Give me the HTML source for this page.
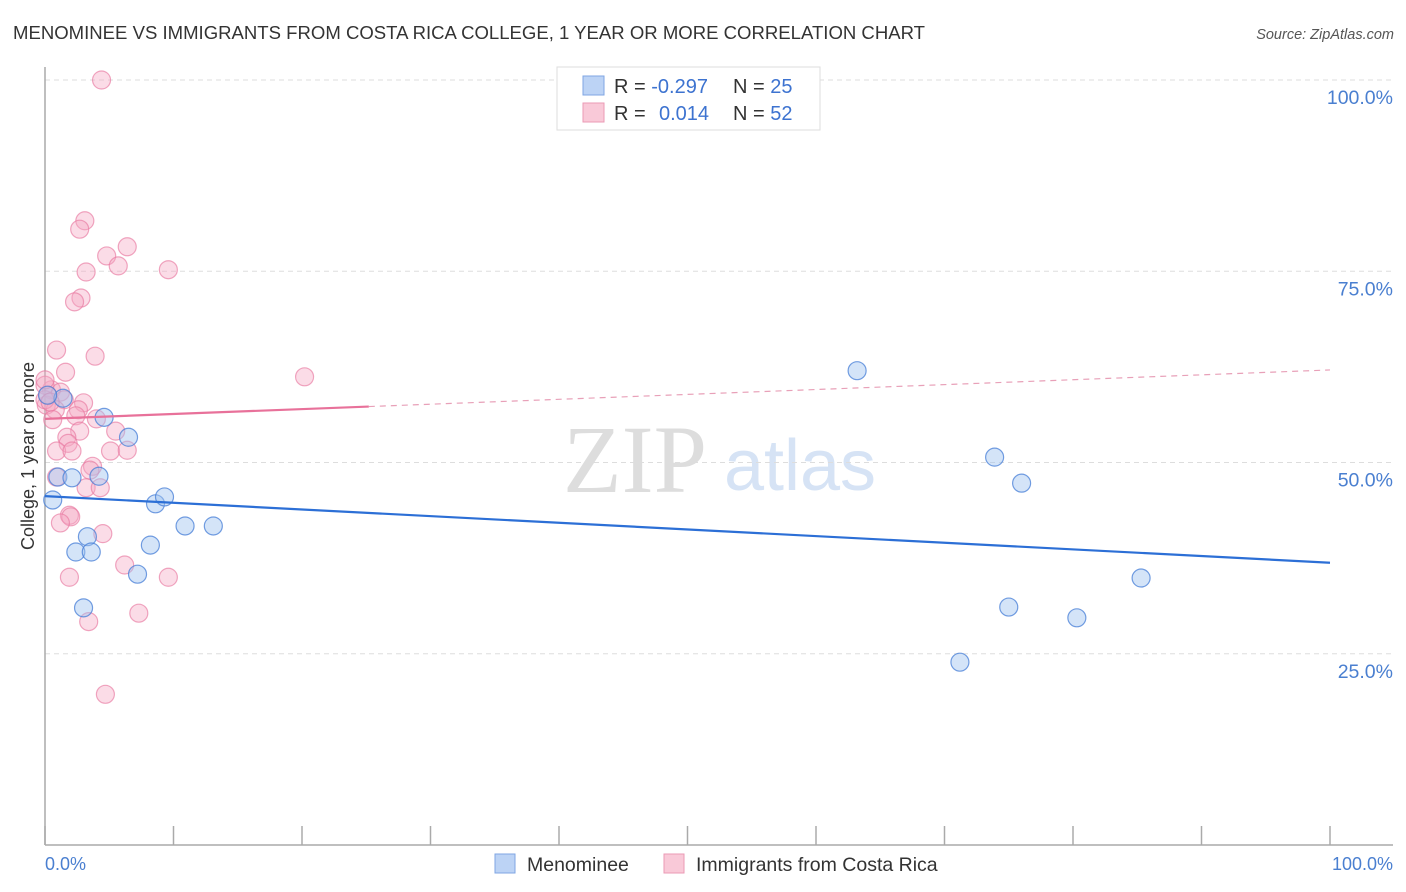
<!DOCTYPE html>
<html><head><meta charset="utf-8"><style>
body{margin:0;background:#fff;font-family:"Liberation Sans",sans-serif}
svg{display:block}
</style></head><body>
<svg id="c" width="1406" height="892" xmlns="http://www.w3.org/2000/svg">
<text x="13" y="39" font-size="18" fill="#333" textLength="912" lengthAdjust="spacingAndGlyphs">MENOMINEE VS IMMIGRANTS FROM COSTA RICA COLLEGE, 1 YEAR OR MORE CORRELATION CHART</text>
<text x="1394" y="39" font-size="14.5" fill="#555" font-style="italic" text-anchor="end">Source: ZipAtlas.com</text>
<text x="635" y="492" font-size="96" fill="#ddd" font-family="Liberation Serif,serif" text-anchor="middle">ZIP</text>
<text x="800" y="490" font-size="72" fill="#d6e3f5" text-anchor="middle">atlas</text>
<g id="grid"></g><g id="axes"></g><g id="pts"></g><g id="trend"></g>
<text x="34" y="456" font-size="18" fill="#333" text-anchor="middle" transform="rotate(-90 34 456)">College, 1 year or more</text>
<text x="45" y="870" font-size="18" fill="#4a7fd0">0.0%</text>
<text x="1393" y="870" font-size="18" fill="#4a7fd0" text-anchor="end">100.0%</text>
<g>
<rect x="557" y="67" width="263" height="63" fill="#fff" stroke="#ddd"/>
<rect x="583" y="76" width="21" height="19" fill="#bcd3f5" stroke="#7fa6e3"/>
<rect x="583" y="103" width="21" height="19" fill="#f9c9d8" stroke="#eb9ab5"/>
<text x="614" y="93" font-size="20" fill="#333">R = <tspan fill="#3d73d0">-0.297</tspan><tspan x="733">N = </tspan><tspan fill="#3d73d0">25</tspan></text>
<text x="614" y="120" font-size="20" fill="#333">R = <tspan x="659" fill="#3d73d0">0.014</tspan><tspan x="733">N = </tspan><tspan fill="#3d73d0">52</tspan></text>
</g>
<g>
<rect x="495" y="854" width="20" height="19" fill="#bcd3f5" stroke="#7fa6e3"/>
<text x="527" y="871" font-size="19.5" fill="#333">Menominee</text>
<rect x="664" y="854" width="20" height="19" fill="#f9c9d8" stroke="#eb9ab5"/>
<text x="696" y="871" font-size="19.5" fill="#333">Immigrants from Costa Rica</text>
</g>
</svg>
<script>
const yTicks=[25,50,75,100];
const yTickLabels=["25.0%","50.0%","75.0%","100.0%"];
const xTicks=[0,10,20,30,40,50,60,70,80,90,100];
const blueX=[0.6,1.0,2.1,2.4,3.0,3.3,3.6,4.6,4.2,6.5,7.2,8.2,8.6,9.3,10.9,13.1,63.2,73.9,76.0,75.0,80.3,71.2,85.3,1.4,0.2];
const blueY=[45.1,48.1,48.0,38.3,31.0,40.3,38.3,55.9,48.2,53.3,35.4,39.2,44.6,45.5,41.7,41.7,62.0,50.7,47.3,31.1,29.7,23.9,34.9,58.4,58.8];
const pinkX=[4.4,3.1,2.7,6.4,4.8,5.7,3.2,9.6,2.8,2.3,3.9,0.9,1.6,20.2,0.5,1.2,0,1.5,3.0,0.1,0.8,2.6,2.4,0.6,2.7,5.5,1.7,1.8,0.9,2.1,5.1,6.4,3.7,3.5,0.9,3.2,4.3,1.9,2.0,1.2,4.5,1.9,6.2,9.6,3.4,7.3,4.7,0,0.2,4.0,0.4,0];
const pinkY=[100,81.6,80.5,78.2,77.0,75.7,74.9,75.2,71.5,71.0,63.9,64.7,61.8,61.2,59.5,59.2,60.1,58.2,57.8,57.5,56.9,56.9,56.1,55.6,54.1,54.1,53.3,52.5,51.5,51.5,51.5,51.6,49.5,49.0,48.1,46.7,46.7,43.1,42.9,42.1,40.7,35.0,36.6,35.0,29.2,30.3,19.7,58.2,58.8,55.7,57.9,60.8];
const blueTrend=[45.6,36.9];
const pinkTrend=[55.7,62.1];
const pinkSolidEnd=25.2;
const NS="http://www.w3.org/2000/svg";
const X=v=>45+v*12.85, Y=v=>845-v*7.65;
function mk(t,a,p){const e=document.createElementNS(NS,t);for(const k in a)e.setAttribute(k,a[k]);p.appendChild(e);return e;}
const grid=document.getElementById('grid'),axes=document.getElementById('axes'),pts=document.getElementById('pts'),tr=document.getElementById('trend');
yTicks.forEach((t,i)=>{
 const l=mk('line',{x1:45,x2:1393,y1:Y(t),y2:Y(t),stroke:'#ddd','stroke-dasharray':'5,4'},grid);
 
 
 const tx=mk('text',{x:1393,y:Y(t)+24,'font-size':19.5,fill:'#4a7fd0','text-anchor':'end'},grid);
 tx.textContent=yTickLabels[i];
 
 
});
const ya=mk('line',{x1:45,x2:45,y1:67,y2:845,stroke:'#aaa','stroke-width':1.5},axes);


const xa=mk('line',{x1:45,x2:1393,y1:845,y2:845,stroke:'#aaa','stroke-width':1.5},axes);


xTicks.forEach(t=>{
 const l=mk('line',{x1:X(t),x2:X(t),y1:826,y2:845,stroke:'#aaa','stroke-width':1.5},axes);
 
 
});
pinkX.forEach((v,i)=>{
 const c=mk('circle',{cx:X(v),cy:Y(pinkY[i]),r:9,fill:'rgba(246,168,194,0.4)',stroke:'rgba(232,120,160,0.65)','stroke-width':1.2},pts);
 
 
});
blueX.forEach((v,i)=>{
 const c=mk('circle',{cx:X(v),cy:Y(blueY[i]),r:9,fill:'rgba(160,195,240,0.45)',stroke:'rgba(70,125,215,0.75)','stroke-width':1.2},pts);
 
 
});
const bl=mk('line',{x1:X(0),y1:Y(blueTrend[0]),x2:X(100),y2:Y(blueTrend[1]),stroke:'#2c6fd6','stroke-width':2.2},tr);


const pe=pinkTrend[0]+(pinkTrend[1]-pinkTrend[0])*pinkSolidEnd/100;
const pl=mk('line',{x1:X(0),y1:Y(pinkTrend[0]),x2:X(pinkSolidEnd),y2:Y(pe),stroke:'#e8719a','stroke-width':2.2},tr);


const pd=mk('line',{x1:X(pinkSolidEnd),y1:Y(pe),x2:X(100),y2:Y(pinkTrend[1]),stroke:'#e8a0b8','stroke-width':1.2,'stroke-dasharray':'6,5'},tr);


</script>
</body></html>
